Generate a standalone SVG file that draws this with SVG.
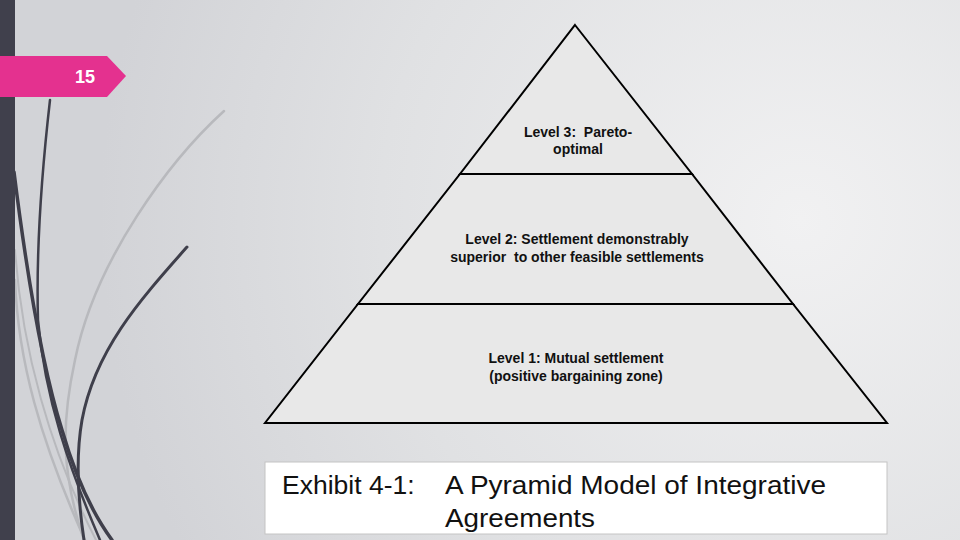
<svg xmlns="http://www.w3.org/2000/svg" width="960" height="540" viewBox="0 0 960 540">
  <defs>
    <radialGradient id="bg" cx="800" cy="220" r="700" gradientUnits="userSpaceOnUse">
      <stop offset="0" stop-color="#f1f1f2"/>
      <stop offset="0.6" stop-color="#e0e1e3"/>
      <stop offset="1" stop-color="#d2d3d7"/>
    </radialGradient>
    <style>
      .lvl { font-family: "Liberation Sans", Arial, sans-serif; font-size: 14px; font-weight: bold; fill: #111; text-anchor: middle; white-space: pre; }
      .cap { font-family: "Liberation Sans", Arial, sans-serif; font-size: 26.5px; fill: #111; }
      .tier { fill: #e8e8e8; stroke: #000; stroke-width: 2; stroke-linejoin: miter; }
      .dark { fill: none; stroke: #3f3f4b; stroke-linecap: round; }
      .light { fill: none; stroke: #b8b9bd; stroke-linecap: round; }
    </style>
  </defs>

  <rect x="0" y="0" width="960" height="540" fill="url(#bg)"/>

  <!-- decorative curves -->
  <g id="decor">
    <path class="light" stroke-width="2.5" d="M224,111 C170,160 95,260 75,360 C62,420 60,470 84,540"/>
    <path class="light" stroke-width="2.5" d="M15,280 C18,360 40,440 85,540"/>
    <path class="light" stroke-width="2" d="M15,250 C22,350 50,450 96,540"/>
    <path class="dark" stroke-width="2.5" d="M50,100 C42,170 36,250 38,320 C45,400 70,470 100,540"/>
    <path class="dark" stroke-width="3.5" d="M14,172 C25,260 40,360 62,430 C75,475 90,510 112,540"/>
    <path class="dark" stroke-width="3" d="M187,247 C140,300 95,350 82,420 C75,460 78,500 84,540"/>
  </g>

  <!-- sidebar -->
  <rect x="0" y="0" width="15" height="540" fill="#40404c"/>

  <!-- slide number tab -->
  <g id="slide-number">
    <path d="M0,56 L107,56 L126,76 L107,97 L0,97 Z" fill="#e4318f"/>
    <text x="85" y="83" font-family="'Liberation Sans', Arial, sans-serif" font-size="18" font-weight="bold" fill="#ffffff" text-anchor="middle">15</text>
  </g>

  <!-- pyramid -->
  <g id="level-1">
    <path class="tier" d="M358,304 L793,304 L887,423 L265,423 Z"/>
    <text class="lvl" x="576" y="363">Level 1: Mutual settlement</text>
    <text class="lvl" x="576" y="381">(positive bargaining zone)</text>
  </g>
  <g id="level-2">
    <path class="tier" d="M460,174 L692,174 L793,304 L358,304 Z"/>
    <text class="lvl" x="577" y="244">Level 2: Settlement demonstrably</text>
    <text class="lvl" x="577" y="262">superior  to other feasible settlements</text>
  </g>
  <g id="level-3">
    <path class="tier" d="M575,25 L692,174 L460,174 Z"/>
    <text class="lvl" x="578" y="137">Level 3:  Pareto-</text>
    <text class="lvl" x="578" y="154">optimal</text>
  </g>

  <!-- caption -->
  <g id="caption">
    <rect x="265" y="462" width="622" height="72" fill="#ffffff" stroke="#c4c4c4" stroke-width="1"/>
    <text class="cap" x="282" y="494">Exhibit 4-1:</text>
    <text class="cap" x="445" y="494" textLength="381" lengthAdjust="spacingAndGlyphs">A Pyramid Model of Integrative</text>
    <text class="cap" x="445" y="527" textLength="150" lengthAdjust="spacingAndGlyphs">Agreements</text>
  </g>

  <g id="connectors"/>
</svg>
